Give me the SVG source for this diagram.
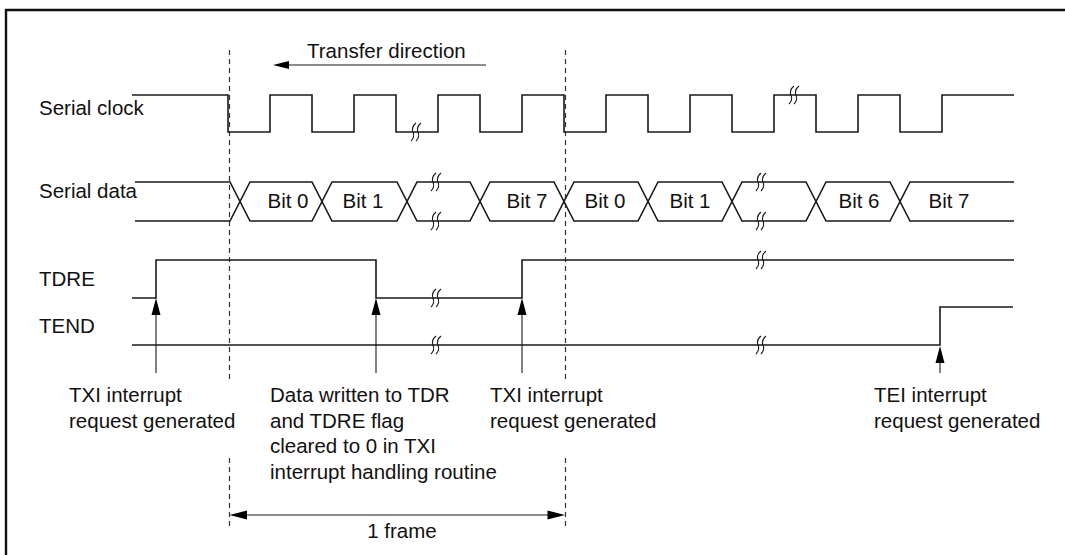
<svg xmlns="http://www.w3.org/2000/svg" width="1065" height="555" viewBox="0 0 1065 555">
<style>
.sig{fill:none;stroke:#1a1a1a;stroke-width:1.6}
.dash{fill:none;stroke:#333;stroke-width:1.2;stroke-dasharray:5,4}
.brk{fill:none;stroke:#1a1a1a;stroke-width:1.1}
.arr{fill:none;stroke:#1a1a1a;stroke-width:1.1}
.head{fill:#000}
text{font-family:"Liberation Sans",Arial,sans-serif;font-size:20.5px;fill:#111}
</style>
<defs>
<g id="brk"><path class="brk" d="M2,-9 Q-3,-5 -1,0 Q1,5 -3,9 M7,-9 Q2,-5 4,0 Q6,5 2,9"/></g>
</defs>
<rect width="1065" height="555" fill="#fff"/>
<path d="M6,555 V10 H1065" fill="none" stroke="#111" stroke-width="2.4"/>

<g id="guides">
<path class="dash" d="M229.5,50 V380 M229.5,458 V528"/>
<path class="dash" d="M565.5,50 V380 M565.5,458 V528"/>
</g>

<g id="transfer-direction">
<text x="307" y="58">Transfer direction</text>
<line class="arr" x1="486" y1="65" x2="286" y2="65"/>
<path class="head" d="M273,65 L289,61 L289,69 Z"/>
</g>

<g id="serial-clock">
<text x="39" y="115">Serial clock</text>
<path class="sig" d="M132,95 H228 V132 H270 V95 H312 V132 H354 V95 H396 V132 H438 V95 H480 V132 H522 V95 H564 V132 H606 V95 H648 V132 H690 V95 H732 V132 H774 V95 H816 V132 H858 V95 H900 V132 H942 V95 H1014"/>
<use href="#brk" x="414" y="132"/>
<use href="#brk" x="792" y="95"/>
</g>

<g id="serial-data">
<text x="39" y="198">Serial data</text>
<path class="sig" d="M135,182 H230 L250,221 H312 L332,182 H397 L417,221 H470 L490,182 H554 L574,221 H638 L658,182 H722 L742,221 H806 L826,182 H890 L910,221 H1014"/>
<path class="sig" d="M135,221 H230 L250,182 H312 L332,221 H397 L417,182 H470 L490,221 H554 L574,182 H638 L658,221 H722 L742,182 H806 L826,221 H890 L910,182 H1014"/>
<use href="#brk" x="434" y="182"/>
<use href="#brk" x="434" y="221"/>
<use href="#brk" x="759" y="182"/>
<use href="#brk" x="759" y="221"/>
<text x="288" y="208" text-anchor="middle">Bit 0</text>
<text x="363" y="208" text-anchor="middle">Bit 1</text>
<text x="527" y="208" text-anchor="middle">Bit 7</text>
<text x="605" y="208" text-anchor="middle">Bit 0</text>
<text x="690" y="208" text-anchor="middle">Bit 1</text>
<text x="859" y="208" text-anchor="middle">Bit 6</text>
<text x="949" y="208" text-anchor="middle">Bit 7</text>
</g>

<g id="tdre">
<text x="39" y="286">TDRE</text>
<path class="sig" d="M132,298 H156 V260 H376 V298 H522 V260 H1014"/>
<use href="#brk" x="434" y="298"/>
<use href="#brk" x="759" y="260"/>
</g>

<g id="tend">
<text x="39" y="333">TEND</text>
<path class="sig" d="M132,345 H940 V307 H1013"/>
<use href="#brk" x="434" y="345"/>
<use href="#brk" x="759" y="345"/>
</g>

<g id="connectors">
<line class="arr" x1="156" y1="373" x2="156" y2="312"/>
<path class="head" d="M156,298 L151.5,315 L160.5,315 Z"/>
<line class="arr" x1="376" y1="373" x2="376" y2="312"/>
<path class="head" d="M376,298 L371.5,315 L380.5,315 Z"/>
<line class="arr" x1="522" y1="373" x2="522" y2="312"/>
<path class="head" d="M522,298 L517.5,315 L526.5,315 Z"/>
<line class="arr" x1="940" y1="373" x2="940" y2="360"/>
<path class="head" d="M940,346 L935.5,363 L944.5,363 Z"/>
</g>

<g id="label-txi-1">
<text x="69" y="402">TXI interrupt</text>
<text x="69" y="427.5">request generated</text>
</g>
<g id="label-tdr">
<text x="270" y="402">Data written to TDR</text>
<text x="270" y="427.5">and TDRE flag</text>
<text x="270" y="453">cleared to 0 in TXI</text>
<text x="270" y="478.5">interrupt handling routine</text>
</g>
<g id="label-txi-2">
<text x="490" y="402">TXI interrupt</text>
<text x="490" y="427.5">request generated</text>
</g>
<g id="label-tei">
<text x="874" y="402">TEI interrupt</text>
<text x="874" y="427.5">request generated</text>
</g>

<g id="frame">
<line class="arr" x1="245" y1="515" x2="549" y2="515"/>
<path class="head" d="M229.5,515 L247,510.5 L247,519.5 Z"/>
<path class="head" d="M565,515 L547.5,510.5 L547.5,519.5 Z"/>
<text x="402" y="538" text-anchor="middle">1 frame</text>
</g>
</svg>
